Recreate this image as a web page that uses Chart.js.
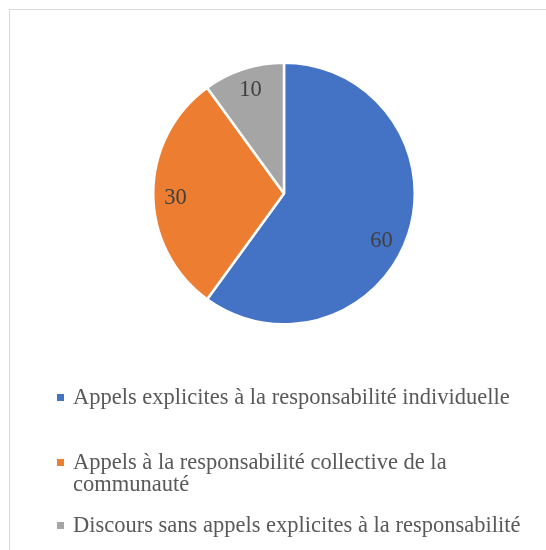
<!DOCTYPE html>
<html>
<head>
<meta charset="utf-8">
<title>Responsabilité</title>
<script src="https://cdn.jsdelivr.net/npm/chart.js@4.4.0/dist/chart.umd.min.js"></script>
<style>
  html, body { margin: 0; padding: 0; background: #fff; }
  body { width: 546px; height: 550px; position: relative; overflow: hidden; }
  #frame { position: absolute; left: 9px; top: 9px; width: 560px; height: 560px;
           border-left: 1.5px solid #d9d9d9; border-top: 1.5px solid #d9d9d9; }
  #wrap { position: absolute; left: 0; top: 0; width: 546px; height: 550px; }
  #legend { position: absolute; left: 54px; top: 386px; width: 480px;
            font-family: 'Times New Roman', 'Liberation Serif', serif; font-size: 22.5px;
            color: #595959; line-height: 22px; }
  .item { position: relative; padding-left: 19px; }
  .box { position: absolute; left: 3px; top: 8px; width: 7px; height: 7px; }
</style>
</head>
<body>
<div id="frame"></div>
<div id="wrap"><canvas id="pie"></canvas></div>
<div id="legend"></div>
<script>
var labels = [
  'Appels explicites à la responsabilité individuelle',
  'Appels à la responsabilité collective de la communauté',
  'Discours sans appels explicites à la responsabilité'
];
var values = [60, 30, 10];
var colors = ['#4472c4', '#ed7d31', '#a5a5a5'];

// space above each legend entry (Excel spaces them unevenly)
var legendGaps = [0, 43, 19];
// Excel's "best fit" nudges labels a little off the slice middle (degrees)
var labelTurn = [8, -2.5, 0];

var valueLabels = {
  id: 'valueLabels',
  afterDatasetsDraw: function(chart) {
    var ctx = chart.ctx;
    var meta = chart.getDatasetMeta(0);
    ctx.save();
    ctx.font = '22.5px "Times New Roman", "Liberation Serif", serif';
    ctx.fillStyle = '#404040';
    ctx.textAlign = 'center';
    ctx.textBaseline = 'middle';
    meta.data.forEach(function(arc, i) {
      var p = arc.getProps(['x', 'y', 'startAngle', 'endAngle', 'outerRadius'], true);
      var mid = (p.startAngle + p.endAngle) / 2 + labelTurn[i] * Math.PI / 180;
      var r = p.outerRadius * 0.83;
      ctx.fillText(String(values[i]), p.x + Math.cos(mid) * r, p.y + Math.sin(mid) * r);
    });
    ctx.restore();
  }
};

new Chart(document.getElementById('pie'), {
  type: 'pie',
  data: {
    labels: labels,
    datasets: [{
      data: values,
      backgroundColor: colors,
      borderColor: '#ffffff',
      borderWidth: 2.5
    }]
  },
  options: {
    responsive: true,
    maintainAspectRatio: false,
    animation: false,
    layout: { padding: { left: 152, right: 130, top: 61.5, bottom: 224.5 } },
    plugins: {
      legend: { display: false },
      tooltip: { enabled: false }
    }
  },
  plugins: [valueLabels]
});

var legend = document.getElementById('legend');
labels.forEach(function(txt, i) {
  var item = document.createElement('div');
  item.className = 'item';
  item.style.marginTop = legendGaps[i] + 'px';
  var box = document.createElement('span');
  box.className = 'box';
  box.style.background = colors[i];
  item.appendChild(box);
  item.appendChild(document.createTextNode(txt));
  legend.appendChild(item);
});
</script>
</body>
</html>
